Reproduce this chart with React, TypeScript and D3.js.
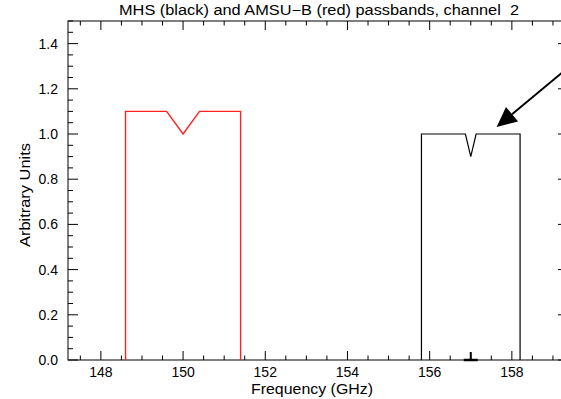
import React from "react";
import * as d3 from "d3";

// ---- data ----
const redFreq = [148.6, 148.6, 149.6, 150.0, 150.4, 151.4, 151.4];
const redVal = [0.0, 1.1, 1.1, 1.0, 1.1, 1.1, 0.0];
const blackFreq = [155.8, 155.8, 156.87, 157.0, 157.13, 158.2, 158.2];
const blackVal = [0.0, 1.0, 1.0, 0.9, 1.0, 1.0, 0.0];
const markerCenter = [157.0];
const markerHalfWidth = [0.17];
const arrowTip = [157.63, 1.031];
const arrowTail = [160.2, 1.42];
const xMajorTicks = [148, 150, 152, 154, 156, 158];
const yMajorTicks = [0.0, 0.2, 0.4, 0.6, 0.8, 1.0, 1.2, 1.4];
const titleText = "MHS (black) and AMSU\u2212B (red) passbands, channel  2";
const xTitle = "Frequency (GHz)";
const yTitle = "Arbitrary Units";

const W = 561;
const H = 399;
const left = 68;
const right = 568;
const top = 21;
const bottom = 360;

export default function App() {
  const x = d3.scaleLinear().domain([147.2, 159.366]).range([left, right]);
  const y = d3.scaleLinear().domain([0, 1.5]).range([bottom, top]);

  const line = d3
    .line<[number, number]>()
    .x((d) => x(d[0]))
    .y((d) => y(d[1]));

  const redPts: [number, number][] = redFreq.map((f, i) => [f, redVal[i]]);
  const blackPts: [number, number][] = blackFreq.map((f, i) => [f, blackVal[i]]);

  const xMinor = d3.range(147.5, 159.4, 0.5).filter((v) => Math.abs(v / 2 - Math.round(v / 2)) > 1e-6);
  const yMinor = d3.range(0, 1.5001, 0.05).filter((v) => Math.abs(v / 0.2 - Math.round(v / 0.2)) > 1e-6);

  const font = "'Liberation Sans', Arial, sans-serif";
  const xMaj = 9, xMin = 4.5, yMaj = 10, yMin = 5;

  // arrow
  const tx = x(arrowTip[0]), ty = y(arrowTip[1]);
  const sx = x(arrowTail[0]), sy = y(arrowTail[1]);
  const len = Math.hypot(sx - tx, sy - ty);
  const ux = (sx - tx) / len, uy = (sy - ty) / len;
  const headL = 20, headW = 9.5;
  const bx = tx + ux * headL, by = ty + uy * headL;
  const head = `${tx},${ty} ${bx - uy * headW},${by + ux * headW} ${bx + uy * headW},${by - ux * headW}`;

  return (
    <svg
      width={W}
      height={H}
      style={{ position: "absolute", left: 0, top: 0, background: "#fff" }}
      fontFamily={font}
    >
      <rect x={0} y={0} width={W} height={H} fill="#fff" />
      {/* frame */}
      <rect x={left} y={top} width={right - left} height={bottom - top} fill="none" stroke="#000" strokeWidth={1} />

      {/* x ticks bottom & top */}
      {xMajorTicks.map((t) => (
        <g key={"xm" + t}>
          <line x1={x(t)} x2={x(t)} y1={bottom} y2={bottom - xMaj} stroke="#000" />
          <line x1={x(t)} x2={x(t)} y1={top} y2={top + xMaj} stroke="#000" />
          <text x={x(t)} y={377} fontSize={14} textAnchor="middle" fill="#000">
            {t}
          </text>
        </g>
      ))}
      {xMinor.map((t) => (
        <g key={"xn" + t}>
          <line x1={x(t)} x2={x(t)} y1={bottom} y2={bottom - xMin} stroke="#000" />
          <line x1={x(t)} x2={x(t)} y1={top} y2={top + xMin} stroke="#000" />
        </g>
      ))}

      {/* y ticks left & right */}
      {yMajorTicks.map((t) => (
        <g key={"ym" + t}>
          <line x1={left} x2={left + yMaj} y1={y(t)} y2={y(t)} stroke="#000" />
          <line x1={right} x2={right - yMaj} y1={y(t)} y2={y(t)} stroke="#000" />
          <text x={58} y={y(t) + 5} fontSize={14} textAnchor="end" fill="#000">
            {t.toFixed(1)}
          </text>
        </g>
      ))}
      {yMinor.map((t) => (
        <g key={"yn" + t}>
          <line x1={left} x2={left + yMin} y1={y(t)} y2={y(t)} stroke="#000" />
          <line x1={right} x2={right - yMin} y1={y(t)} y2={y(t)} stroke="#000" />
        </g>
      ))}

      {/* data */}
      <path d={line(redPts) || ""} fill="none" stroke="#ff2020" strokeWidth={1.4} />
      <path d={line(blackPts) || ""} fill="none" stroke="#000" strokeWidth={1.2} />

      {/* marker at channel centre */}
      <line
        x1={x(markerCenter[0] - markerHalfWidth[0])}
        x2={x(markerCenter[0] + markerHalfWidth[0])}
        y1={bottom}
        y2={bottom}
        stroke="#000"
        strokeWidth={2.5}
      />
      <line x1={x(markerCenter[0])} x2={x(markerCenter[0])} y1={bottom} y2={bottom - 8} stroke="#000" strokeWidth={2} />

      {/* arrow */}
      <line x1={sx} y1={sy} x2={bx} y2={by} stroke="#000" strokeWidth={2} />
      <polygon points={head} fill="#000" />

      {/* titles */}
      <text
        x={319}
        y={15}
        fontSize={14}
        textAnchor="middle"
        textLength={400}
        lengthAdjust="spacingAndGlyphs"
        fill="#000"
        style={{ whiteSpace: "pre" }}
      >
        {titleText}
      </text>
      <text x={312} y={394} fontSize={14} textAnchor="middle" textLength={122} lengthAdjust="spacingAndGlyphs" fill="#000">
        {xTitle}
      </text>
      <text
        transform={`translate(30,195) rotate(-90)`}
        fontSize={14}
        textAnchor="middle"
        textLength={104}
        lengthAdjust="spacingAndGlyphs"
        fill="#000"
      >
        {yTitle}
      </text>
    </svg>
  );
}
